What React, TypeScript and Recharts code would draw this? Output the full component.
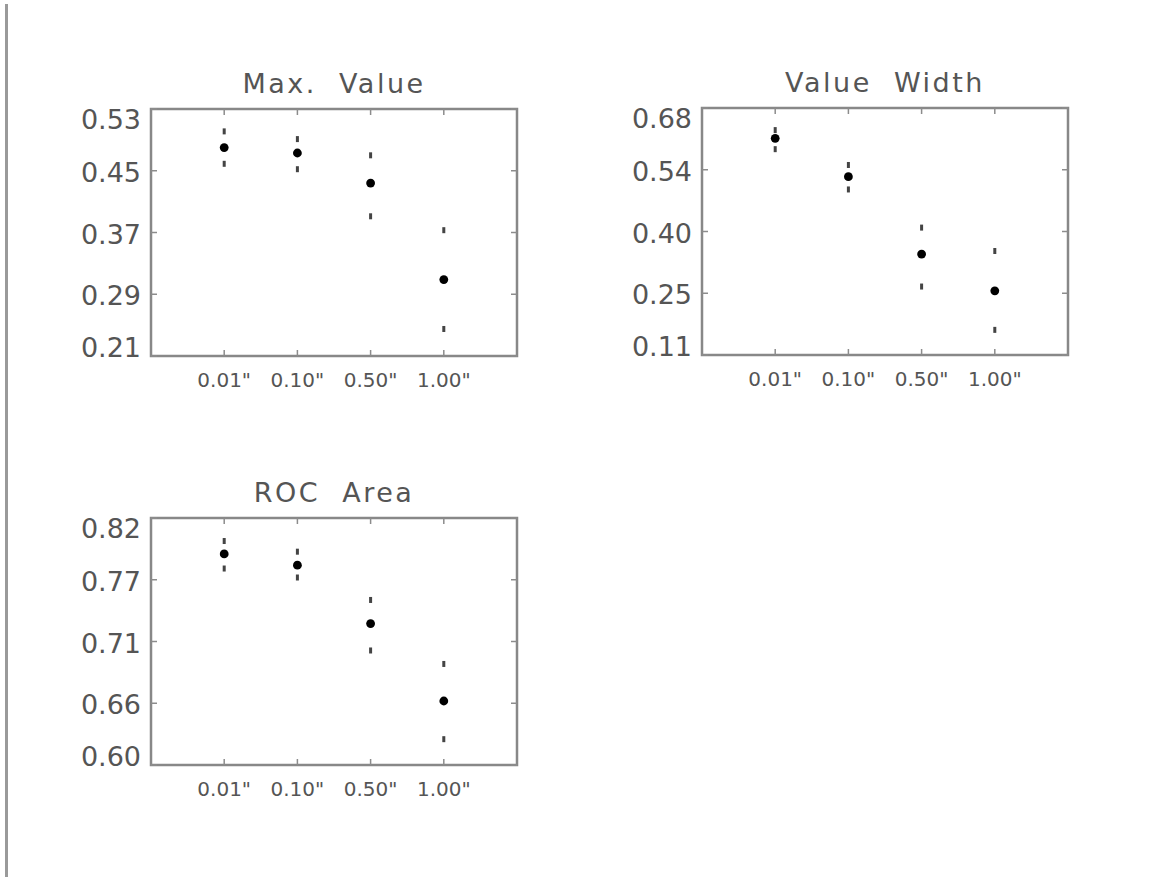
import { ReferenceArea, Scatter, ScatterChart, XAxis, YAxis } from "recharts";

const categories = ['0.01"', '0.10"', '0.50"', '1.00"'];

const maxValueMid = [0.48, 0.473, 0.434, 0.309];
const maxValueHigh = [0.501, 0.491, 0.47, 0.373];
const maxValueLow = [0.459, 0.452, 0.391, 0.245];
const maxValueTicks = [0.21, 0.29, 0.37, 0.45, 0.53];
const maxValueLabels = ["0.21", "0.29", "0.37", "0.45", "0.53"];

const widthMid = [0.61, 0.5215, 0.343, 0.258];
const widthHigh = [0.629, 0.5485, 0.404, 0.35];
const widthLow = [0.585, 0.492, 0.268, 0.168];
const widthTicks = [0.11, 0.2525, 0.395, 0.5375, 0.68];
const widthLabels = ["0.11", "0.25", "0.40", "0.54", "0.68"];

const rocMid = [0.788, 0.778, 0.726, 0.657];
const rocHigh = [0.7995, 0.79, 0.747, 0.69];
const rocLow = [0.775, 0.767, 0.702, 0.623];
const rocTicks = [0.6, 0.655, 0.71, 0.765, 0.82];
const rocLabels = ["0.60", "0.66", "0.71", "0.77", "0.82"];

const CHART_W = 540;
const CHART_H = 350;
const Y_AXIS_W = 70;
const X_AXIS_H = 40;
const Y_GAP = 10;
const X_GAP = 24;
const INNER_TICK = 6;
const FONT = '"DejaVu Sans", sans-serif';
const TEXT = "#555";
const FRAME = "#888";
const TICK = "#8c8c8c";
const xTicks = categories.map((_, i) => i + 1);

const dotShape = (p: any) => <circle cx={p.cx} cy={p.cy} r={4.4} fill="#000" />;
const dashShape = (p: any) => <rect x={p.cx - 1.5} y={p.cy - 3} width={3} height={6} fill="#444" />;

function Panel({
  title,
  left,
  top,
  plot,
  mid,
  high,
  low,
  ticks,
  labels,
}: {
  title: string;
  left: number;
  top: number;
  plot: [number, number, number, number];
  mid: number[];
  high: number[];
  low: number[];
  ticks: number[];
  labels: string[];
}) {
  const [pl, pt, pr, pb] = plot;
  const domain: [number, number] = [ticks[0], ticks[ticks.length - 1]];
  const toPts = (vals: number[]) => vals.map((v, i) => ({ x: i + 1, y: v }));
  // plot edges in chart-local coordinates
  const edgeL = pl - left;
  const edgeR = pr - left;
  const edgeT = pt - top;
  const edgeB = pb - top;

  const yTick = (props: any) => {
    const v = props.payload.value;
    // end labels are kept inside the frame, as in the original
    const shift = v === domain[1] ? 10 : v === domain[0] ? -9 : 1.5;
    return (
      <g>
        <line x1={edgeL} x2={edgeL + INNER_TICK} y1={props.y} y2={props.y} stroke={TICK} strokeWidth={1.5} />
        <line x1={edgeR - INNER_TICK} x2={edgeR} y1={props.y} y2={props.y} stroke={TICK} strokeWidth={1.5} />
        <text x={props.x} y={props.y + shift} textAnchor="end" dominantBaseline="central" fontFamily={FONT} fontSize={27} fill={TEXT}>
          {labels[ticks.indexOf(v)]}
        </text>
      </g>
    );
  };

  const xTick = (props: any) => (
    <g>
      <line x1={props.x} x2={props.x} y1={edgeB - INNER_TICK} y2={edgeB} stroke={TICK} strokeWidth={1.5} />
      <line x1={props.x} x2={props.x} y1={edgeT} y2={edgeT + INNER_TICK} stroke={TICK} strokeWidth={1.5} />
      <text x={props.x} y={props.y} textAnchor="middle" dominantBaseline="central" fontFamily={FONT} fontSize={20} fill={TEXT}>
        {categories[props.payload.value - 1]}
      </text>
    </g>
  );

  return (
    <>
      <div
        style={{
          position: "absolute",
          left: pl,
          width: pr - pl,
          top: pt - 39,
          textAlign: "center",
          fontFamily: FONT,
          fontSize: 27,
          lineHeight: "27px",
          letterSpacing: 2.5,
          color: TEXT,
          whiteSpace: "pre",
        }}
      >
        {title}
      </div>
      <div style={{ position: "absolute", left, top }}>
        <ScatterChart
          width={CHART_W}
          height={CHART_H}
          margin={{
            left: edgeL - Y_AXIS_W,
            top: edgeT,
            right: CHART_W - edgeR,
            bottom: CHART_H - edgeB - X_AXIS_H,
          }}
        >
          <XAxis
            dataKey="x"
            type="number"
            domain={[0, 5]}
            ticks={xTicks}
            height={X_AXIS_H}
            axisLine={false}
            tickLine={false}
            tickSize={0}
            tickMargin={X_GAP}
            tick={xTick}
            interval={0}
          />
          <YAxis
            dataKey="y"
            type="number"
            domain={domain}
            ticks={ticks}
            width={Y_AXIS_W}
            axisLine={false}
            tickLine={false}
            tickSize={0}
            tickMargin={Y_GAP}
            tick={yTick}
            interval={0}
          />
          <ReferenceArea x1={0} x2={5} y1={domain[0]} y2={domain[1]} fill="none" fillOpacity={0} stroke={FRAME} strokeWidth={2.5} />
          <Scatter data={toPts(high)} shape={dashShape} isAnimationActive={false} />
          <Scatter data={toPts(low)} shape={dashShape} isAnimationActive={false} />
          <Scatter data={toPts(mid)} shape={dotShape} isAnimationActive={false} />
        </ScatterChart>
      </div>
    </>
  );
}

export default function App() {
  return (
    <div style={{ position: "absolute", left: 0, top: 0, width: 1150, height: 877, background: "#fff", overflow: "hidden" }}>
      <div style={{ position: "absolute", left: 5, top: 4, width: 3, height: 873, background: "#9a9a9a" }} />
      <Panel
        title="Max.  Value"
        left={0}
        top={60}
        plot={[151, 109, 517, 356]}
        mid={maxValueMid}
        high={maxValueHigh}
        low={maxValueLow}
        ticks={maxValueTicks}
        labels={maxValueLabels}
      />
      <Panel
        title="Value  Width"
        left={550}
        top={60}
        plot={[702, 108, 1068, 355]}
        mid={widthMid}
        high={widthHigh}
        low={widthLow}
        ticks={widthTicks}
        labels={widthLabels}
      />
      <Panel
        title="ROC  Area"
        left={0}
        top={470}
        plot={[151, 518, 517, 765]}
        mid={rocMid}
        high={rocHigh}
        low={rocLow}
        ticks={rocTicks}
        labels={rocLabels}
      />
    </div>
  );
}
